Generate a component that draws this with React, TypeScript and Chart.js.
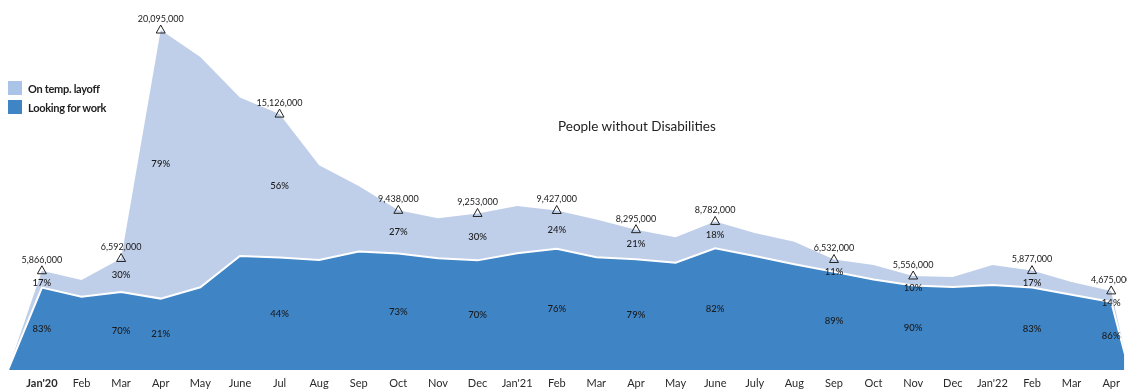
import React, { useEffect, useRef } from "react";
import { Chart, registerables } from "chart.js";

Chart.register(...registerables);

const months = ["Jan'20", "Feb", "Mar", "Apr", "May", "June", "Jul", "Aug", "Sep", "Oct", "Nov", "Dec", "Jan'21", "Feb", "Mar", "Apr", "May", "June", "July", "Aug", "Sep", "Oct", "Nov", "Dec", "Jan'22", "Feb", "Mar", "Apr"];

const lookingForWork = [4869000, 4330000, 4614000, 4220000, 4890000, 6740000, 6655000, 6500000, 7000000, 6890000, 6600000, 6480000, 6900000, 7160000, 6660000, 6550000, 6340000, 7200000, 6740000, 6250000, 5810000, 5350000, 5000000, 4900000, 5020000, 4880000, 4450000, 4020000];
const onTempLayoff = [997000, 990000, 1978000, 15875000, 13610000, 9360000, 8471000, 5600000, 3870000, 2548000, 2370000, 2773000, 2790000, 2267000, 2240000, 1745000, 1500000, 1582000, 1360000, 1330000, 722000, 850000, 556000, 600000, 1180000, 997000, 750000, 655000];

const labelledMonths = [0, 2, 3, 6, 9, 11, 13, 15, 17, 20, 22, 25, 27];
const totalLabels = ["5,866,000", "6,592,000", "20,095,000", "15,126,000", "9,438,000", "9,253,000", "9,427,000", "8,295,000", "8,782,000", "6,532,000", "5,556,000", "5,877,000", "4,675,000"];
const layoffPct = [17, 30, 79, 56, 27, 30, 24, 21, 18, 11, 10, 17, 14];
const lookingPct = [83, 70, 21, 44, 73, 70, 76, 79, 82, 89, 90, 83, 86];

const START_ANCHOR = -0.856;
const END_ANCHOR = 27.45;

const DARK = "#3f84c5";
const LIGHT = "#c0cfe9";
const FONT = "Lato, 'Noto Sans', sans-serif";

const annotations = {
  id: "annotations",
  afterDatasetsDraw(chart: any) {
    const ctx = chart.ctx;
    const xs = chart.scales.x;
    const ys = chart.scales.y;
    ctx.save();
    labelledMonths.forEach((m, k) => {
      const x = xs.getPixelForValue(m);
      const total = lookingForWork[m] + onTempLayoff[m];
      const yTop = ys.getPixelForValue(total);
      const yMid = ys.getPixelForValue(lookingForWork[m]);
      const yBase = ys.getPixelForValue(0);
      ctx.strokeStyle = "#222";
      ctx.lineWidth = 1;
      ctx.beginPath();
      ctx.moveTo(x, yTop - 5);
      ctx.lineTo(x + 4.5, yTop + 3);
      ctx.lineTo(x - 4.5, yTop + 3);
      ctx.closePath();
      ctx.stroke();
      ctx.fillStyle = "#1a1a1a";
      ctx.textAlign = "center";
      ctx.textBaseline = "middle";
      ctx.font = `9px ${FONT}`;
      ctx.fillText(totalLabels[k], x, yTop - 11);
      ctx.font = `500 9.5px ${FONT}`;
      const ly = Math.max((yTop + yMid) / 2, yTop + 12);
      ctx.fillText(layoffPct[k] + "%", x, ly);
      ctx.fillText(lookingPct[k] + "%", x, (yMid + yBase) / 2);
    });
    ctx.restore();
  },
};

export default function App() {
  const ref = useRef<HTMLCanvasElement>(null);
  useEffect(() => {
    if (!ref.current) return;
    const withAnchors = (arr: number[]) => [
      { x: START_ANCHOR, y: 0 },
      ...arr.map((v, i) => ({ x: i, y: v })),
      { x: END_ANCHOR, y: 0 },
    ];
    const chart = new Chart(ref.current, {
      type: "line",
      data: {
        datasets: [
          {
            label: "Looking for work",
            data: withAnchors(lookingForWork),
            backgroundColor: DARK,
            borderColor: "#ffffff",
            borderWidth: 2,
            fill: "origin",
            pointRadius: 0,
            tension: 0,
          },
          {
            label: "On temp. layoff",
            data: withAnchors(onTempLayoff),
            backgroundColor: LIGHT,
            borderColor: LIGHT,
            borderWidth: 0,
            fill: "-1",
            pointRadius: 0,
            tension: 0,
          },
        ],
      },
      options: {
        responsive: false,
        animation: false,
        layout: { padding: 0 },
        plugins: { legend: { display: false }, tooltip: { enabled: false } },
        scales: {
          x: {
            type: "linear",
            min: -1.058,
            max: 27.33,
            grid: { display: false, drawTicks: false },
            border: { display: false },
            afterBuildTicks: (scale: any) => {
              scale.ticks = months.map((_, i) => ({ value: i }));
            },
            afterFit: (scale: any) => {
              scale.height = 21;
            },
            ticks: {
              autoSkip: false,
              maxRotation: 0,
              padding: 7,
              color: "#2a2a2a",
              font: (c: any) => ({ family: FONT, size: 11, weight: c.index === 0 ? "bold" : "normal" }),
              callback: (v: any) => months[v] ?? "",
            },
          },
          y: {
            display: false,
            stacked: true,
            min: 0,
            max: 21870000,
          },
        },
      },
      plugins: [annotations],
    });
    return () => chart.destroy();
  }, []);

  return (
    <div style={{ position: "absolute", left: 0, top: 0, width: 1127, height: 391, background: "#fff", fontFamily: FONT, overflow: "hidden" }}>
      <canvas ref={ref} width={1127} height={391} style={{ display: "block" }} />
      <div style={{ position: "absolute", left: 8, top: 81, display: "flex", alignItems: "center", gap: 6 }}>
        <div style={{ width: 14, height: 14, background: "#a9c4e7" }} />
        <span style={{ fontSize: 11, fontWeight: 700, color: "#222", letterSpacing: -0.3 }}>On temp. layoff</span>
      </div>
      <div style={{ position: "absolute", left: 8, top: 100, display: "flex", alignItems: "center", gap: 6 }}>
        <div style={{ width: 14, height: 14, background: DARK }} />
        <span style={{ fontSize: 11, fontWeight: 700, color: "#222", letterSpacing: -0.3 }}>Looking for work</span>
      </div>
      <div style={{ position: "absolute", left: 558, top: 118, fontSize: 13.5, color: "#222", whiteSpace: "nowrap" }}>
        People without Disabilities
      </div>
    </div>
  );
}
